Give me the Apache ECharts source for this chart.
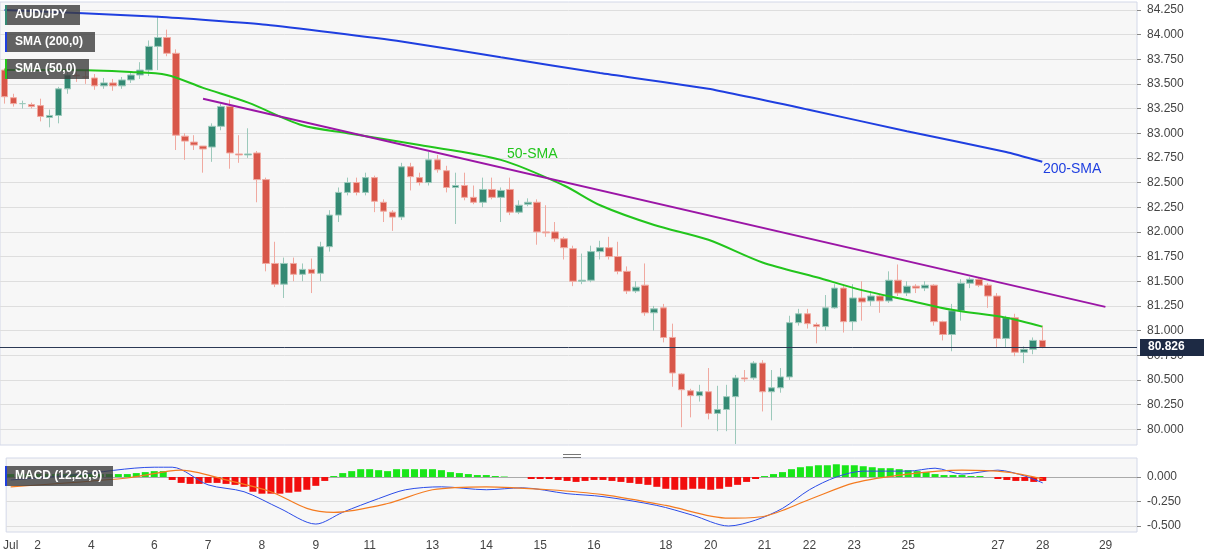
<!DOCTYPE html>
<html><head><meta charset="utf-8">
<script src="https://cdn.jsdelivr.net/npm/echarts@6/dist/echarts.min.js"></script>
<style>html,body{margin:0;padding:0;background:#fff}#c{width:1207px;height:555px}</style>
</head><body><div id="c"></div>
<script>
// candles: [open, close, low, high]
const candles = [
[83.64,83.37,83.30,83.66],[83.36,83.30,83.27,83.40],[83.30,83.30,83.25,83.33],[83.29,83.27,83.25,83.31],
[83.28,83.17,83.12,83.35],[83.16,83.18,83.06,83.24],[83.18,83.45,83.10,83.47],[83.45,83.59,83.40,83.62],
[83.59,83.58,83.52,83.65],[83.57,83.57,83.50,83.64],[83.56,83.48,83.44,83.60],[83.48,83.51,83.45,83.56],
[83.51,83.48,83.43,83.55],[83.48,83.54,83.45,83.57],[83.54,83.59,83.51,83.62],[83.59,83.64,83.55,83.72],
[83.64,83.88,83.58,83.94],[83.88,83.97,83.64,84.19],[83.97,83.81,83.78,84.05],[83.81,82.98,82.83,83.85],
[82.97,82.92,82.73,83.00],[82.91,82.88,82.83,82.98],[82.87,82.84,82.60,82.87],[82.86,83.07,82.71,83.10],
[83.07,83.27,83.03,83.30],[83.27,82.80,82.64,83.34],[82.79,82.78,82.70,82.98],[82.78,82.79,82.75,83.05],
[82.80,82.53,82.30,82.82],[82.53,81.68,81.60,82.55],[81.68,81.47,81.44,81.90],[81.47,81.68,81.33,81.74],
[81.68,81.57,81.50,81.74],[81.57,81.62,81.50,81.68],[81.62,81.58,81.38,81.73],[81.58,81.85,81.50,81.90],
[81.85,82.17,81.80,82.22],[82.17,82.40,82.10,82.45],[82.40,82.50,82.37,82.55],[82.50,82.40,82.37,82.55],
[82.40,82.55,82.37,82.60],[82.55,82.31,82.20,82.57],[82.30,82.21,82.10,82.33],[82.20,82.15,82.01,82.22],
[82.15,82.66,82.12,82.70],[82.66,82.56,82.42,82.70],[82.55,82.50,82.47,82.60],[82.50,82.73,82.47,82.81],
[82.73,82.63,82.60,82.78],[82.62,82.45,82.40,82.67],[82.45,82.47,82.08,82.60],[82.47,82.35,82.32,82.60],
[82.35,82.30,82.28,82.47],[82.30,82.43,82.25,82.55],[82.43,82.35,82.33,82.55],[82.35,82.42,82.10,82.45],
[82.43,82.20,82.17,82.55],[82.20,82.27,82.18,82.32],[82.28,82.30,82.26,82.34],[82.30,82.00,81.87,82.33],
[82.00,81.99,81.95,82.27],[82.00,81.93,81.90,82.10],[81.93,81.84,81.72,81.95],[81.83,81.50,81.45,81.86],
[81.50,81.51,81.47,81.78],[81.51,81.80,81.49,81.86],[81.80,81.84,81.72,81.91],[81.84,81.75,81.72,81.95],
[81.75,81.60,81.57,81.90],[81.60,81.40,81.37,81.65],[81.40,81.44,81.38,81.50],[81.46,81.18,81.15,81.68],
[81.18,81.22,81.00,81.25],[81.23,80.93,80.88,81.27],[80.93,80.57,80.43,81.07],[80.56,80.40,80.02,80.57],
[80.39,80.34,80.12,80.41],[80.34,80.38,80.28,80.45],[80.38,80.16,80.10,80.62],[80.16,80.20,79.98,80.44],
[80.20,80.33,79.98,80.45],[80.33,80.52,79.85,80.55],[80.52,80.51,80.48,80.60],[80.52,80.67,80.50,80.69],
[80.67,80.38,80.18,80.70],[80.38,80.42,80.09,80.60],[80.42,80.53,80.37,80.62],[80.53,81.08,80.50,81.15],
[81.08,81.17,81.05,81.22],[81.17,81.07,81.02,81.22],[81.06,81.04,80.87,81.08],[81.04,81.23,81.00,81.36],
[81.23,81.43,81.22,81.47],[81.43,81.09,80.98,81.47],[81.09,81.33,81.00,81.47],[81.33,81.29,81.10,81.50],
[81.30,81.35,81.25,81.40],[81.35,81.30,81.18,81.37],[81.30,81.51,81.28,81.60],[81.51,81.38,81.35,81.67],
[81.38,81.45,81.35,81.50],[81.45,81.43,81.38,81.47],[81.43,81.46,81.40,81.50],[81.46,81.09,81.05,81.47],
[81.09,80.96,80.90,81.10],[80.96,81.20,80.79,81.27],[81.20,81.48,81.10,81.52],[81.48,81.52,81.43,81.54],
[81.52,81.46,81.44,81.54],[81.46,81.35,81.23,81.48],[81.35,80.92,80.83,81.38],[80.92,81.13,80.83,81.15],
[81.13,80.78,80.74,81.17],[80.78,80.81,80.67,80.84],[80.81,80.90,80.76,80.93],[80.90,80.83,80.82,81.05]
];
const nCats = 126;
const tickIdx  = [0,3,9,16,22,28,34,40,47,53,59,65,73,78,84,89,94,100,110,115,122];
const tickText = ['Jul','2','4','6','7','8','9','11','13','14','15','16','18','20','21','22','23','25','27','28','29'];
// [index, value]
const sma200 = [[0,84.25],[17,84.18],[29,84.10],[44,83.93],[55,83.77],[66,83.61],[78,83.45],[89,83.24],[100,83.02],[111,82.81],[115,82.71]];
const sma50 = [[0,83.64],[7,83.64],[14,83.62],[18,83.59],[22,83.46],[27,83.31],[33,83.08],[38,83.00],[46,82.88],[55,82.73],[62,82.47],[66,82.27],[72,82.07],[78,81.92],[84,81.69],[90,81.54],[95,81.41],[100,81.31],[105,81.21],[111,81.13],[115,81.04]];
const trendLine = [[22,83.35],[122,81.24]];
const lastPrice = 80.826;
const hist = [0.03,0.03,0.03,0.03,0.03,0.03,0.03,0.03,0.03,0.03,0.03,0.03,0.03,0.03,0.04,0.05,0.06,0.06,
-0.03,-0.06,-0.07,-0.07,-0.06,-0.06,-0.07,-0.08,-0.10,-0.15,-0.17,-0.17,-0.17,-0.16,-0.15,-0.13,-0.09,-0.04,
0.01,0.04,0.06,0.08,0.08,0.07,0.06,0.08,0.08,0.08,0.08,0.08,0.07,0.05,0.04,0.03,0.02,0.02,0.01,0.005,0,0,
-0.02,-0.02,-0.02,-0.03,-0.04,-0.05,-0.04,-0.03,-0.03,-0.04,-0.05,-0.06,-0.07,-0.08,-0.10,-0.12,-0.13,-0.13,-0.12,-0.12,-0.13,-0.12,-0.10,-0.08,-0.05,-0.02,
0.01,0.03,0.05,0.08,0.10,0.11,0.12,0.12,0.13,0.12,0.12,0.11,0.10,0.09,0.09,0.08,0.07,0.06,0.05,0.03,0.02,0.02,0.02,0.01,0.01,0,
-0.02,-0.03,-0.04,-0.04,-0.05,-0.04];
const macdLine = [[0,-0.03],[7,0.02],[16,0.10],[18,0.10],[22,-0.08],[26,-0.15],[30,-0.32],[34,-0.48],[37,-0.36],[41,-0.22],[44,-0.13],[48,-0.10],[53,-0.13],[57,-0.11],[62,-0.17],[66,-0.20],[72,-0.29],[76,-0.39],[80,-0.50],[83,-0.44],[86,-0.32],[89,-0.13],[92,0.00],[95,0.06],[100,0.06],[103,0.09],[106,0.03],[110,0.07],[113,0.01],[115,-0.06]];
const signalLine = [[0,-0.10],[13,-0.01],[19,0.07],[24,-0.03],[29,-0.15],[33,-0.32],[36,-0.36],[42,-0.27],[47,-0.13],[53,-0.10],[60,-0.13],[66,-0.18],[73,-0.29],[80,-0.42],[84,-0.40],[89,-0.23],[94,-0.06],[100,0.03],[106,0.07],[111,0.05],[115,-0.02]];

const cats = [];
for (let i = 0; i < nCats; i++) { const k = tickIdx.indexOf(i); cats.push(k >= 0 ? tickText[k] : ''); }
const priceTicks = []; for (let v = 80; v <= 84.25001; v += 0.25) priceTicks.push(+v.toFixed(2));
const UP = '#348a74', DN = '#d8574a';

const chart = echarts.init(document.getElementById('c'));
function legendBox(y, w, text, col) {
  return [{type:'rect', shape:{x:5,y:y,width:w,height:20}, style:{fill:'rgba(60,60,60,0.8)'}, z:100},
          {type:'rect', shape:{x:5,y:y,width:2,height:20}, style:{fill:col}, z:101},
          {type:'text', x:15, y:y+4, style:{text:text, fill:'#fff', font:'bold 12px Arial'}, z:101}];
}
chart.setOption({
  animation:false,
  backgroundColor:'#fff',
  grid:[
    {left:0, right:70, top:2, height:443, show:true, backgroundColor:'#f7f7f7', borderColor:'#d3d8e8'},
    {left:0, right:70, top:458, height:74, show:true, backgroundColor:'#f7f7f7', borderColor:'#d3d8e8'}
  ],
  xAxis:[
    {type:'category', gridIndex:0, data:cats, boundaryGap:true, axisLine:{show:false}, axisTick:{show:false}, axisLabel:{show:false}, splitLine:{show:false}},
    {type:'category', gridIndex:1, data:cats, boundaryGap:true, axisLine:{lineStyle:{color:'#aaa'}},
     axisTick:{interval:(i,v)=>v!=='', lineStyle:{color:'#888'}, length:4},
     axisLabel:{interval:(i,v)=>v!=='', color:'#444', fontSize:12, fontFamily:'Arial', margin:8}, splitLine:{show:false}}
  ],
  yAxis:[
    {type:'value', gridIndex:0, position:'right', min:79.84, max:84.33, scale:true,
     axisLabel:{customValues:priceTicks, formatter:v=>v.toFixed(3), color:'#444', fontSize:12, fontFamily:'Arial', margin:10},
     axisTick:{customValues:priceTicks, show:true, length:4, lineStyle:{color:'#888'}},
     axisLine:{show:false}, splitLine:{show:true, lineStyle:{color:'#dedede'}}},
    {type:'value', gridIndex:1, position:'right', min:-0.561, max:0.194,
     axisLabel:{customValues:[-0.5,-0.25,0], formatter:v=>v.toFixed(3), color:'#444', fontSize:12, fontFamily:'Arial', margin:10},
     axisTick:{customValues:[-0.5,-0.25,0], show:true, length:4, lineStyle:{color:'#888'}},
     axisLine:{show:false}, splitLine:{show:true, lineStyle:{color:'#dedede'}}}
  ],
  series:[
    {type:'candlestick', xAxisIndex:0, yAxisIndex:0, data:candles, barWidth:7,
     itemStyle:{color:UP, color0:DN, borderColor:'#9cc9bb', borderColor0:'#f0a9a0', borderWidth:1},
     markLine:{silent:true, symbol:'none', label:{show:false}, lineStyle:{color:'#2c3a55', width:1, type:'solid'}, data:[{yAxis:lastPrice}]}},
    {type:'line', xAxisIndex:0, yAxisIndex:0, data:sma200, smooth:0.15, showSymbol:false, lineStyle:{color:'#1f3fe0', width:2}},
    {type:'line', xAxisIndex:0, yAxisIndex:0, data:sma50, smooth:0.3, showSymbol:false, lineStyle:{color:'#22c51c', width:2}},
    {type:'line', xAxisIndex:0, yAxisIndex:0, data:trendLine, showSymbol:false, lineStyle:{color:'#9b16a6', width:2}},
    {type:'bar', xAxisIndex:1, yAxisIndex:1, data:hist.map(v=>({value:v, itemStyle:{color:v>=0?'#19e619':'#f20d0d'}})), barWidth:7},
    {type:'line', xAxisIndex:1, yAxisIndex:1, data:macdLine, smooth:0.3, showSymbol:false, lineStyle:{color:'#2b4ce8', width:1}},
    {type:'line', xAxisIndex:1, yAxisIndex:1, data:signalLine, smooth:0.3, showSymbol:false, lineStyle:{color:'#f47b20', width:1.2}}
  ],
  graphic:[
    ...legendBox(5, 75, 'AUD/JPY', '#348a74'),
    ...legendBox(32, 90, 'SMA (200,0)', '#1f3fe0'),
    ...legendBox(59, 84, 'SMA (50,0)', '#22c51c'),
    ...legendBox(466, 108, 'MACD (12,26,9)', '#1f3fe0'),
    {type:'text', x:507, y:147, style:{text:'50-SMA', fill:'#22c51c', font:'14px Arial'}},
    {type:'text', x:1043, y:162, style:{text:'200-SMA', fill:'#1f3fe0', font:'14px Arial'}},
    {type:'rect', shape:{x:1140,y:339,width:64,height:17}, style:{fill:'#1d2a44'}, z:100},
    {type:'text', x:1148, y:341, style:{text:lastPrice.toFixed(3), fill:'#fff', font:'bold 12px Arial'}, z:101},
    {type:'rect', shape:{x:563,y:454,width:18,height:1}, style:{fill:'#777'}},
    {type:'rect', shape:{x:563,y:457,width:18,height:1}, style:{fill:'#777'}}
  ]
});
</script></body></html>
